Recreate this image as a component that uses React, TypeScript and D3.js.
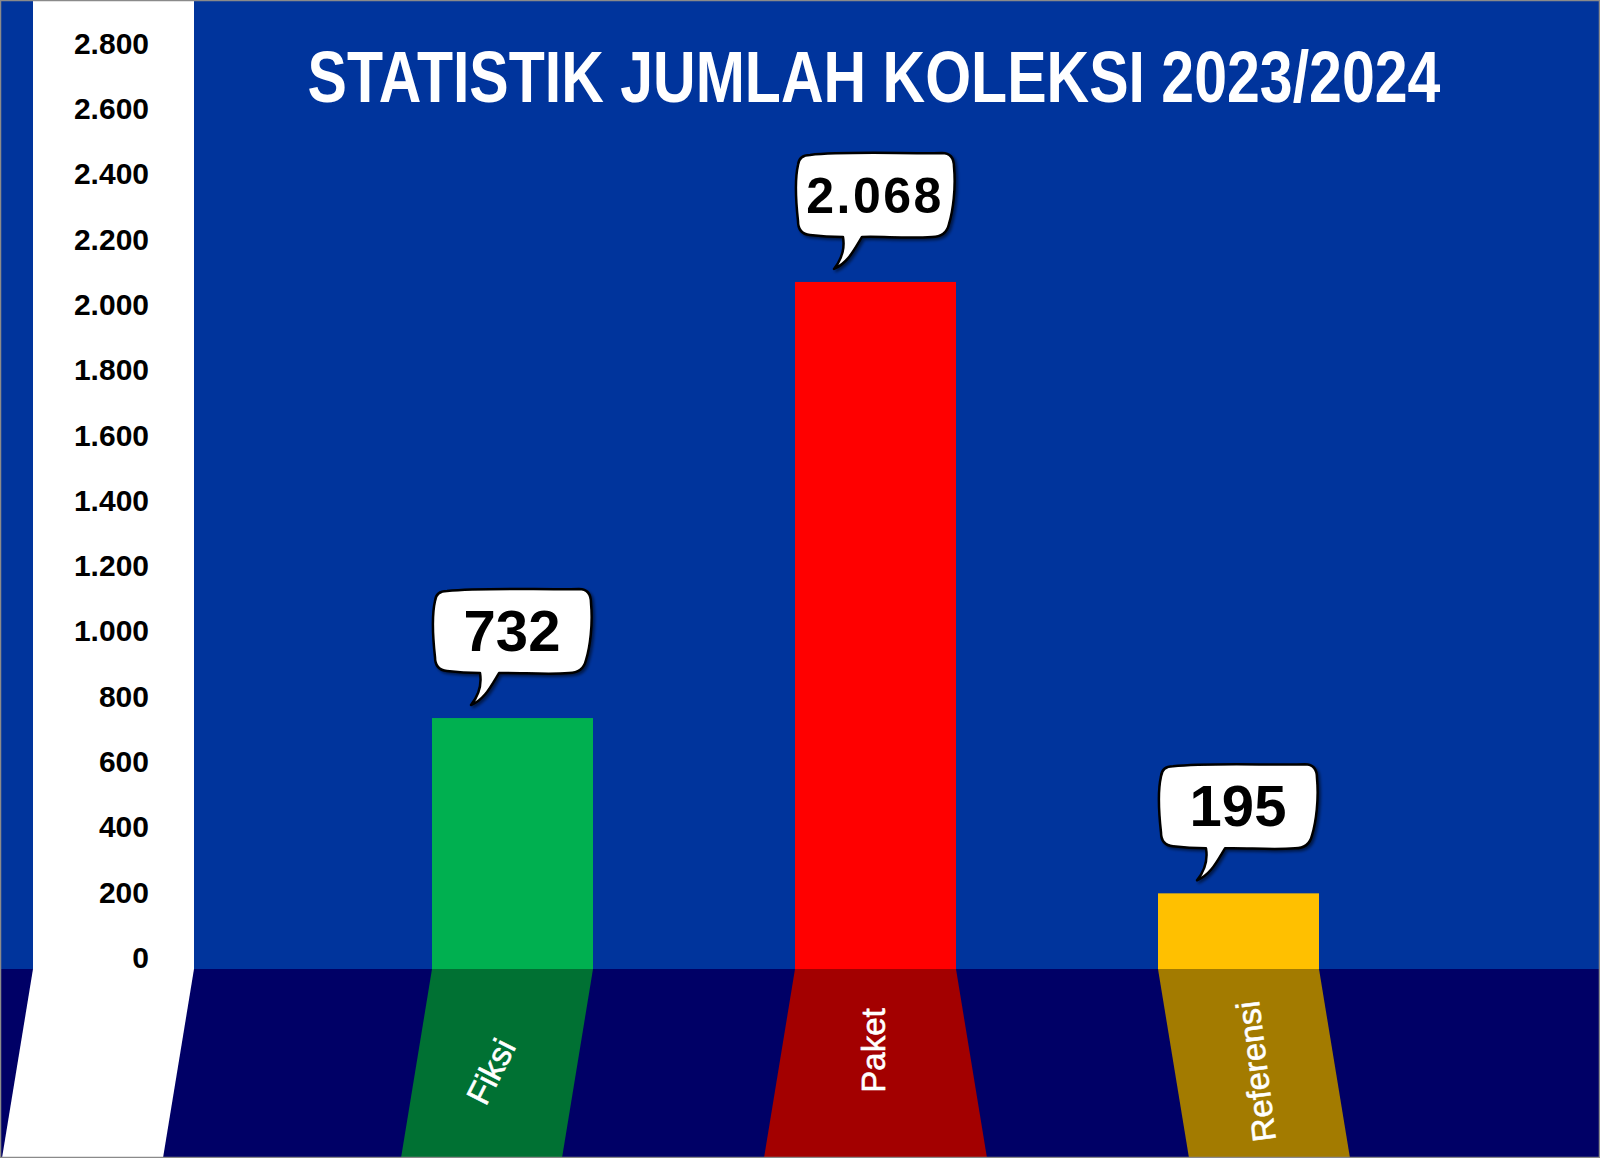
import React from "react";
import * as d3 from "d3";

const title = "STATISTIK JUMLAH KOLEKSI 2023/2024";
const categories = ["Fiksi", "Paket", "Referensi"];
const values = [732, 2068, 195];
const barColors = ["#00B050", "#FF0000", "#FFC000"];
const yTicks = [0, 200, 400, 600, 800, 1000, 1200, 1400, 1600, 1800, 2000, 2200, 2400, 2600, 2800];

// style constants
const W = 1600;
const H = 1158;
const FLOOR_Y = 969;
const BG = "#00349C";
const FLOOR = "#000066";
const SHIFT = 31;
const labelTilt = [27, 0, -7];
const labelDy = [0, -21, 0];

const idLocale = d3.formatLocale({ decimal: ",", thousands: ".", grouping: [3], currency: ["Rp", ""] });
const fmt = idLocale.format(",d");

const bubblePath =
  "M 14,2 C 50,-2 110,1 146,0 Q 158,0 158,14 C 160,35 157,58 153,71 Q 150,84 136,84 " +
  "C 110,86 85,83 66,84 C 58,97 52,110 38,116 C 46,106 49,96 47,84 " +
  "C 35,84 22,83 14,82 Q 2,81 2,68 C 0,50 -1,25 2,12 Q 3,2 14,2 Z";

export default function App() {
  const y = d3.scaleLinear().domain([0, 2800]).range([957, 43]);
  const x = d3.scaleBand<string>().domain(categories).range([230, 1521]).padding(0.5565);
  const bw = x.bandwidth();
  const cx = ((x(categories[0]) as number) + (x(categories[categories.length - 1]) as number) + bw) / 2;
  const shift = (edge: number) => (edge < cx ? -SHIFT : SHIFT);
  const floorPoly = (l: number, r: number) =>
    `M ${l},${FLOOR_Y} L ${r},${FLOOR_Y} L ${r + shift(r)},${H} L ${l + shift(l)},${H} Z`;

  const axisL = 33;
  const axisR = 194;

  return (
    <svg
      width={W}
      height={H}
      viewBox={`0 0 ${W} ${H}`}
      style={{ position: "fixed", left: 0, top: 0, display: "block" }}
      fontFamily="'Liberation Sans', Arial, sans-serif"
    >
      <defs>
        <filter id="shadow" x="-20%" y="-20%" width="140%" height="150%">
          <feDropShadow dx="2" dy="2" stdDeviation="1.5" floodColor="#000" floodOpacity="0.55" />
        </filter>
      </defs>
      <rect x={0} y={0} width={W} height={H} fill={BG} />
      <rect x={0} y={FLOOR_Y} width={W} height={H - FLOOR_Y} fill={FLOOR} />

      {/* axis column */}
      <rect x={axisL} y={1} width={axisR - axisL} height={FLOOR_Y - 1} fill="#FFFFFF" />
      <path d={floorPoly(axisL, axisR)} fill="#FFFFFF" />
      {yTicks.map((t) => (
        <text
          key={t}
          x={149}
          y={y(t)}
          dy="0.36em"
          textAnchor="end"
          fontSize={30}
          fontWeight="bold"
          fill="#000"
        >
          {fmt(t)}
        </text>
      ))}

      {/* title */}
      <text
        transform="translate(874,102) scale(0.82,1)"
        textAnchor="middle"
        fontWeight="bold"
        fontSize={72}
        fill="#FFFFFF"
      >
        {title}
      </text>

      {/* bars */}
      {categories.map((c, i) => {
        const bx = x(c) as number;
        const top = y(values[i]);
        const col = d3.color(barColors[i])!.darker(1.25).formatHex();
        return (
          <g key={c}>
            <rect x={bx} y={top} width={bw} height={FLOOR_Y - top} fill={barColors[i]} />
            <path d={floorPoly(bx, bx + bw)} fill={col} />
          </g>
        );
      })}

      {/* floor labels */}
      {categories.map((c, i) => {
        const bx = x(c) as number;
        const midY = (FLOOR_Y + H) / 2;
        const l = bx + shift(bx) / 2;
        const r = bx + bw + shift(bx + bw) / 2;
        const mx = (l + r) / 2 + (i === 0 ? -6 : i === 2 ? 2 : -2);
        const my = midY + 8 + labelDy[i];
        return (
          <text
            key={c}
            transform={`translate(${mx},${my}) rotate(${-90 + labelTilt[i]})`}
            textAnchor="middle"
            dominantBaseline="central"
            fontSize={33}
            fill="#FFFFFF"
            stroke="#FFFFFF"
            strokeWidth={0.6}
          >
            {c}
          </text>
        );
      })}

      {/* value bubbles */}
      {categories.map((c, i) => {
        const bx = x(c) as number;
        const top = y(values[i]);
        const label = fmt(values[i]);
        const bLeft = bx + 1;
        const bTop = top - 129;
        return (
          <g key={c} transform={`translate(${bLeft},${bTop})`}>
            <path d={bubblePath} fill="#FFFFFF" stroke="#000" strokeWidth={2.5} strokeLinejoin="round" filter="url(#shadow)" />
            <text
              x={79}
              y={label.length > 3 ? 60 : 62}
              textAnchor="middle"
              fontSize={label.length > 3 ? 50 : 58}
              fontWeight="bold"
              letterSpacing={label.length > 3 ? 2.5 : 0}
              fill="#000"
            >
              {label}
            </text>
          </g>
        );
      })}

      <rect x={0.5} y={0.5} width={W - 1} height={H - 1} fill="none" stroke="#8A8A8A" strokeWidth={1.5} />
    </svg>
  );
}
